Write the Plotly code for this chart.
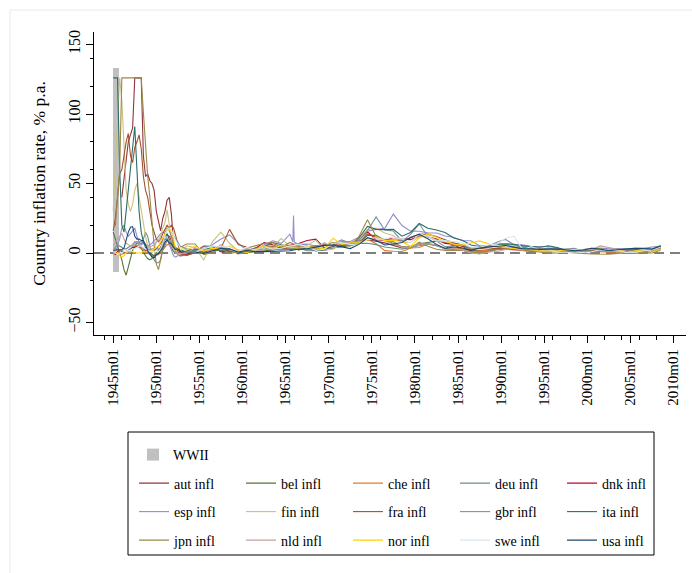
import plotly.graph_objects as go

# ---------------- data ----------------
# sampling dates: quarterly 1945-1952, then mid-year 1953-2008
dates = []
for yr in range(1945, 1953):
    for mo in (1, 4, 7, 10):
        dates.append(f"{yr}m{mo:02d}")
for yr in range(1953, 2009):
    dates.append(f"{yr}m07")

countries = ["aut", "bel", "che", "deu", "dnk", "esp", "fin", "fra",
             "gbr", "ita", "jpn", "nld", "nor", "swe", "usa"]

aut_infl = [None, None, None, None, 40, 55, 70, 80, 85, 90, 126, 126, 126, 126, 70, 55,
            57, 52, 50, 45, 30, 22, 16, 25, 30, 38, 40, 28, 6, 2, 0, -2,
            -1, 3.5, 0.4, 3.2, 2.1, 1.5, 1.1, 1.9, 3.6, 4.4, 2.7, 3.8, 5.0, 2.2, 4.0, 2.8, 3.1, 4.4, 4.7, 6.4,
            7.6, 9.5, 8.4, 7.3, 5.5, 3.6, 3.7, 6.4, 6.8, 5.4, 3.3, 5.7, 3.2, 1.7, 1.4, 1.9, 2.6, 3.3, 3.3, 4.0,
            3.6, 3.0, 2.2, 1.9, 1.3, 0.9, 0.6, 2.3, 2.7, 1.8, 1.4, 2.1, 2.3, 1.4, 2.2, 3.9]
bel_infl = [15, 10, 5, 0, -5, -12, -16, -10, -3, 2, 5, 7, 6, 3, 0, -2,
            -4, -5, -4, -2, 0, 2, 4, 8, 10, 10, 8, 4, 1, 0, -1, -1,
            -0.5, 0.6, -0.1, 2.9, 3.2, 1.3, 1.3, 0.3, 1.0, 1.4, 2.1, 4.2, 4.1, 4.2, 2.9, 2.7, 3.8, 3.9, 4.3, 5.5,
            7.0, 12.7, 12.8, 9.2, 7.1, 4.5, 4.5, 6.6, 7.6, 8.7, 7.7, 6.3, 4.9, 1.3, 1.6, 1.2, 3.1, 3.4, 3.2, 2.4,
            2.8, 2.4, 1.5, 2.1, 1.6, 1.0, 1.1, 2.5, 2.5, 1.6, 1.6, 2.1, 2.8, 1.8, 1.8, 5.5]
che_infl = [2, 2, 1, 0, -1, 0, 1, 2, 3, 4, 5, 5, 4, 3, 2, 1,
            0, -1, -2, -2, -2, -1, 0, 2, 4, 6, 6, 5, 4, 3, 2, 1,
            -0.5, 0.7, 1.1, 1.5, 2.0, 2.6, -0.7, 1.4, 1.9, 4.3, 3.4, 3.1, 3.4, 4.7, 4.0, 2.4, 2.5, 3.6, 6.6, 6.7,
            8.7, 9.8, 6.7, 1.7, 1.3, 1.1, 3.6, 4.0, 6.5, 5.6, 3.0, 2.9, 3.4, 0.8, 1.4, 1.9, 3.2, 5.4, 5.9, 4.0,
            3.3, 0.9, 1.8, 0.8, 0.5, 0.0, 0.8, 1.6, 1.0, 0.6, 0.6, 0.8, 1.2, 1.1, 0.7, 2.9]
deu_infl = [2, 4, 6, 5, 4, 3, 3, 4, 5, 6, 8, 8, 7, 6, 10, 15,
            12, 4, -2, -5, -7, -7, -5, 2, 6, 9, 9, 7, 5, 1, -1, -2,
            -1.8, 0.2, 1.6, 2.6, 2.0, 2.2, 1.0, 1.4, 2.3, 2.9, 3.0, 2.3, 3.2, 3.6, 1.6, 1.6, 1.9, 3.4, 5.3, 5.5,
            6.9, 7.0, 6.0, 4.3, 3.7, 2.7, 4.1, 5.4, 6.3, 5.3, 3.3, 2.4, 2.1, -0.1, 0.2, 1.3, 2.8, 2.7, 4.0, 5.1,
            4.5, 2.7, 1.7, 1.4, 1.9, 0.9, 0.6, 1.4, 2.0, 1.4, 1.0, 1.7, 1.5, 1.6, 2.3, 3.3]
dnk_infl = [0, -1, 1, 2, 1, 0, 1, 2, 3, 4, 4, 5, 5, 4, 3, 2,
            1, 1, 1, 2, 3, 5, 7, 10, 12, 13, 12, 9, 6, 3, 1, -1,
            -1, 1, 4.9, 4.6, 0.8, 1.5, 1.9, 1.3, 3.5, 7.4, 6.0, 3.2, 5.5, 6.8, 9.0, 10.0, 3.7, 5.8, 5.9, 6.6,
            9.3, 15.2, 9.6, 9.0, 11.1, 10.0, 9.6, 12.3, 11.7, 10.1, 6.9, 6.3, 4.7, 3.6, 4.0, 4.6, 4.8, 2.6, 2.4, 2.1,
            1.3, 2.0, 2.1, 2.1, 2.2, 1.8, 2.5, 2.9, 2.4, 2.4, 2.1, 1.2, 1.8, 1.9, 1.7, 4.0]
esp_infl = [3, 4, 6, 10, 18, 20, 15, 12, 14, 16, 18, 12, 8, 6, 7, 6,
            5, 6, 7, 9, 10, 12, 14, 15, 14, 10, 6, 2, -2, -3, -2, 0,
            2, 1, 3, 6, 10, 13, 7, 2, 1.5, 5.7, 8.8, 7.0, 13.5, 6.2, 6.4, 4.9, 2.2, 5.7, 8.2, 8.3,
            11.4, 15.7, 17.0, 17.7, 28.0, 19.8, 15.7, 15.6, 14.5, 14.4, 12.2, 11.3, 8.8, 8.8, 5.2, 4.8, 6.8, 6.7, 5.9, 5.9,
            4.6, 4.7, 4.7, 3.6, 2.0, 1.8, 2.3, 3.4, 3.6, 3.1, 3.0, 3.0, 3.4, 3.5, 2.8, 5.0]
# short-lived spike in the Spanish series around the turn of 1965/66
esp_extra_dates = ["1965m11", "1965m12", "1966m01"]
esp_extra_infl = [8, 27, 8]
fin_infl = [30, 60, 100, 126, 110, 75, 45, 35, 30, 35, 45, 50, 40, 30, 20, 12,
            5, 2, 0, 3, 8, 10, 12, 18, 22, 31, 20, 10, 5, 2, 0, -1,
            5, 4, -5, 8, 15, 7, 1.5, 3.4, 2.0, 4.3, 4.9, 10.4, 4.8, 3.8, 5.5, 9.2, 2.3, 2.7, 6.4, 7.1,
            10.7, 16.9, 17.9, 14.4, 12.6, 7.6, 7.5, 11.6, 12.0, 9.3, 8.4, 7.1, 5.9, 2.9, 4.1, 5.1, 6.6, 6.1, 4.3, 2.9,
            2.2, 1.1, 1.0, 0.6, 1.2, 1.4, 1.2, 3.4, 2.6, 1.6, 0.9, 0.2, 0.9, 1.6, 2.5, 4.5]
fra_infl = [16, 25, 40, 57, 60, 70, 80, 86, 70, 65, 76, 80, 85, 75, 55, 45,
            40, 30, 20, 15, 10, 8, 10, 14, 17, 20, 18, 20, 18, 12, 6, 1,
            -1.7, 0.4, 0.9, 2.0, 3.5, 17.0, 6.1, 4.1, 2.4, 5.2, 4.8, 3.4, 2.5, 2.7, 2.7, 4.6, 6.1, 5.9, 5.5, 6.2,
            7.3, 13.7, 11.8, 9.6, 9.4, 9.1, 10.8, 13.6, 13.4, 11.8, 9.6, 7.4, 5.8, 2.5, 3.3, 2.7, 3.5, 3.4, 3.2, 2.4,
            2.1, 1.7, 1.8, 2.0, 1.2, 0.7, 0.5, 1.7, 1.6, 1.9, 2.1, 2.1, 1.7, 1.7, 1.5, 3.6]
gbr_infl = [3, 3, 3, 2, 2, 1, 1, 2, 3, 5, 7, 8, 8, 8, 7, 6,
            3, 2, 3, 3, 3, 3, 3, 4, 7, 9, 11, 12, 12, 10, 8, 5,
            3.1, 1.8, 4.5, 4.9, 3.7, 3.0, 0.6, 1.0, 3.4, 4.2, 2.0, 3.3, 4.8, 3.9, 2.5, 4.7, 5.4, 6.4, 9.4, 7.1,
            9.2, 16.0, 26.0, 16.5, 15.8, 8.3, 13.4, 21.0, 11.9, 8.6, 4.6, 5.0, 6.1, 3.4, 4.2, 4.9, 7.8, 9.8, 5.9, 3.7,
            1.6, 2.4, 3.5, 2.4, 3.1, 3.4, 1.5, 3.0, 1.8, 1.7, 2.9, 3.0, 2.8, 3.2, 4.3, 4.8]
ita_infl = [126, 126, 126, 60, 20, 15, 30, 50, 65, 80, 91, 60, 30, 15, 8, 4,
            2, 0, -1, -2, -1, 0, 3, 8, 12, 14, 10, 6, 4, 3, 3, 2,
            1.9, 2.6, 2.8, 3.4, 1.3, 2.8, -0.4, 2.3, 2.1, 4.7, 7.5, 5.9, 4.6, 2.3, 3.7, 1.4, 2.6, 5.0, 4.8, 5.7,
            10.8, 19.1, 17.0, 16.8, 17.0, 12.1, 14.8, 21.2, 17.8, 16.5, 14.7, 10.8, 9.2, 5.8, 4.7, 5.1, 6.3, 6.5, 6.3, 5.2,
            4.5, 4.1, 5.2, 4.0, 2.0, 2.0, 1.7, 2.5, 2.8, 2.5, 2.7, 2.2, 2.0, 2.1, 1.8, 4.0]
jpn_infl = [18, 20, 40, 60, 126, 126, 126, 126, 126, 126, 126, 126, 126, 126, 101, 74,
            55, 40, 20, 5, -8, -12, -5, 5, 15, 18, 16, 12, 6, 4, 3, 4,
            6.5, 6.5, -1.1, 0.3, 3.1, -0.4, 1.0, 3.6, 5.3, 6.8, 7.6, 3.9, 7.6, 5.1, 4.0, 5.3, 5.2, 7.7, 6.3, 4.9,
            11.7, 24.0, 11.8, 9.4, 8.2, 4.2, 3.7, 7.8, 4.9, 2.7, 1.9, 2.2, 2.0, 0.6, 0.1, 0.7, 2.3, 3.1, 3.3, 1.7,
            1.3, 0.7, -0.1, 0.1, 1.7, 0.7, -0.3, -0.7, -0.8, -0.9, -0.3, 0.0, -0.3, 0.3, 0.0, 2.0]
nld_infl = [5, 8, 10, 12, 14, 10, 7, 6, 5, 6, 7, 8, 6, 4, 3, 3,
            4, 5, 5, 6, 8, 9, 10, 11, 12, 11, 9, 5, 2, 0, -1, -1,
            0, 3.5, 2, 2, 6, 2, 1, 2.3, 1.5, 2.2, 4, 5.6, 4.3, 5.6, 3.3, 3.7, 7.4, 3.6, 7.5, 7.8,
            8.0, 9.6, 10.2, 8.8, 6.4, 4.1, 4.2, 6.5, 6.7, 5.9, 2.8, 3.3, 2.2, 0.1, -0.7, 0.7, 1.1, 2.5, 3.2, 3.2,
            2.6, 2.8, 1.9, 2.0, 2.2, 2.0, 2.2, 2.3, 5.1, 3.9, 2.2, 1.4, 1.5, 1.7, 1.6, 2.3]
nor_infl = [3, 2, 0, -2, -3, -2, 0, 1, 1, 1, 0, 0, 0, 0, 1, 1,
            1, 1, 2, 3, 4, 5, 8, 11, 13, 16, 17, 15, 10, 2, 3, 4,
            2, 5, 1.3, 3.5, 2.6, 5.0, 2.1, 0.3, 2.6, 5.3, 2.6, 5.7, 4.2, 3.3, 4.4, 3.5, 3.1, 10.6, 6.2, 7.2,
            7.5, 9.4, 11.7, 9.1, 9.1, 8.1, 4.8, 10.9, 13.6, 11.4, 8.4, 6.3, 5.7, 7.2, 8.7, 6.7, 4.6, 4.1, 3.4, 2.3,
            2.3, 1.4, 2.4, 1.2, 2.6, 2.3, 2.3, 3.1, 3.0, 1.3, 2.5, 0.5, 1.5, 2.3, 0.7, 3.0]
swe_infl = [0, 0, -1, 0, 0, 1, 1, 2, 2, 3, 3, 4, 5, 5, 4, 3,
            2, 1, 1, 1, 1, 1, 3, 7, 12, 17, 18, 17, 12, 9, 6, 4,
            1, 0.5, 3, 5, 4.5, 4.5, 1, 4, 2, 4.5, 2.9, 3.4, 5.0, 6.4, 4.3, 1.9, 2.7, 7.0, 7.4, 6.0,
            6.7, 9.9, 9.8, 10.3, 11.4, 10.0, 7.2, 13.7, 12.1, 8.6, 8.9, 8.0, 7.4, 4.2, 4.2, 5.8, 6.4, 10.5, 12.0, 2.3,
            4.6, 2.2, 2.5, 0.5, 0.5, -0.1, 0.5, 0.9, 2.4, 2.2, 1.9, 0.4, 0.5, 1.4, 2.2, 4.2]
usa_infl = [2, 2, 2.5, 2.5, 2.5, 3.5, 10, 15, 18.5, 19, 12, 10, 10, 9, 9, 6,
            1.5, -0.5, -3, -3.5, -1, -0.5, 1.7, 4, 8, 9.5, 7, 7, 4, 2.5, 3, 1,
            0.8, 0.7, -0.4, 1.5, 3.3, 2.8, 0.7, 1.7, 1.0, 1.0, 1.3, 1.3, 1.6, 2.9, 3.1, 4.2, 5.5, 5.7, 4.4, 3.2,
            6.2, 11.0, 9.1, 5.8, 6.5, 7.6, 11.3, 13.5, 10.3, 6.2, 3.2, 4.3, 3.6, 1.9, 3.6, 4.1, 4.8, 5.4, 4.2, 3.0,
            3.0, 2.6, 2.8, 3.0, 2.3, 1.6, 2.2, 3.4, 2.8, 1.6, 2.3, 2.7, 3.4, 3.2, 2.8, 5.0]

# WWII shaded band
wwii_start = "1945m01"
wwii_end = "1945m09"
wwii_low = -14
wwii_high = 133

# axis ticks
major_tick_labels = ["1945m01", "1950m01", "1955m01", "1960m01", "1965m01", "1970m01", "1975m01",
                     "1980m01", "1985m01", "1990m01", "1995m01", "2000m01", "2005m01", "2010m01"]
minor_tick_labels = ["1944m01", "1946m01", "1948m01", "1952m01", "1954m01", "1956m01", "1958m01",
                     "1962m01", "1964m01", "1966m01", "1968m01", "1972m01", "1974m01", "1976m01",
                     "1978m01", "1982m01", "1984m01", "1986m01", "1988m01", "1992m01", "1994m01",
                     "1996m01", "1998m01", "2002m01", "2004m01", "2006m01", "2008m01"]
y_major = [-50, 0, 50, 100, 150]
y_minor = [-20, 20, 40, 60, 80, 120, 140]

series = {"aut": aut_infl, "bel": bel_infl, "che": che_infl, "deu": deu_infl, "dnk": dnk_infl,
          "esp": esp_infl, "fin": fin_infl, "fra": fra_infl, "gbr": gbr_infl, "ita": ita_infl,
          "jpn": jpn_infl, "nld": nld_infl, "nor": nor_infl, "swe": swe_infl, "usa": usa_infl}

# ---------------- styling ----------------
colors = {"aut": "rgb(144,53,59)", "bel": "rgb(85,117,47)", "che": "rgb(227,120,46)",
          "deu": "rgb(110,142,132)", "dnk": "rgb(193,5,52)", "esp": "rgb(147,141,210)",
          "fin": "rgb(202,194,126)", "fra": "rgb(160,82,45)", "gbr": "rgb(123,146,168)",
          "ita": "rgb(45,109,102)", "jpn": "rgb(156,136,71)", "nld": "rgb(191,161,156)",
          "nor": "rgb(255,210,0)", "swe": "rgb(217,230,235)", "usa": "rgb(26,71,111)"}
FONT = "Liberation Serif, Times New Roman, serif"


def to_num(lbl):
    yr, mo = lbl.split("m")
    return int(yr) + (int(mo) - 1) / 12.0


x_num = [to_num(d) for d in dates]

fig = go.Figure()

ws, we = to_num(wwii_start), to_num(wwii_end)
fig.add_trace(go.Bar(x=[(ws + we) / 2], y=[wwii_high - wwii_low], base=[wwii_low],
                     width=[we - ws], marker=dict(color="rgb(192,192,192)", line=dict(width=0)),
                     name="WWII", legend="legend", hoverinfo="skip"))

legend_rows = {"aut": "legend2", "bel": "legend2", "che": "legend2", "deu": "legend2", "dnk": "legend2",
               "esp": "legend3", "fin": "legend3", "fra": "legend3", "gbr": "legend3", "ita": "legend3",
               "jpn": "legend4", "nld": "legend4", "nor": "legend4", "swe": "legend4", "usa": "legend4"}

for c in countries:
    xs = list(x_num)
    ys = list(series[c])
    if c == "esp":
        pts = sorted(zip(xs + [to_num(d) for d in esp_extra_dates], ys + esp_extra_infl),
                     key=lambda p: p[0])
        xs = [p[0] for p in pts]
        ys = [p[1] for p in pts]
    fig.add_trace(go.Scatter(x=xs, y=ys, mode="lines", name=f"{c} infl",
                             line=dict(color=colors[c], width=1.1), legend=legend_rows[c],
                             connectgaps=False))

# layout geometry (pixels)
W, H = 692, 573
L, R, T, B = 94, 6, 32, 238
plot_w = W - L - R
plot_h = H - T - B


def px_x(px):
    return (px - L) / plot_w


def px_y(py):
    return (H - B - py) / plot_h


axis_common = dict(showline=True, linecolor="black", linewidth=1, ticks="outside", ticklen=7,
                   tickcolor="black", tickwidth=1, showgrid=False, zeroline=False, mirror=False)

leg_common = dict(orientation="h", xanchor="left", yanchor="middle", bgcolor="rgba(0,0,0,0)",
                  borderwidth=0, font=dict(family=FONT, size=14, color="black"),
                  entrywidth=62, entrywidthmode="pixels", itemclick=False)

fig.update_layout(
    width=W, height=H, autosize=False,
    margin=dict(l=L, r=R, t=T, b=B),
    paper_bgcolor="white", plot_bgcolor="white",
    font=dict(family=FONT, color="black"),
    showlegend=True,
    bargap=0,
    xaxis=dict(range=[1942.77, 2011.45], tickmode="array",
               tickvals=[to_num(t) for t in major_tick_labels], ticktext=major_tick_labels,
               tickangle=-90, tickfont=dict(family=FONT, size=15, color="black"),
               minor=dict(tickmode="array", tickvals=[to_num(t) for t in minor_tick_labels],
                          ticklen=3.5, ticks="outside", tickcolor="black", showgrid=False),
               **axis_common),
    yaxis=dict(range=[-59, 159], tickmode="array", tickvals=y_major,
               tickangle=-90, tickfont=dict(family=FONT, size=16, color="black"),
               minor=dict(tickmode="array", tickvals=y_minor, ticklen=3.5, ticks="outside",
                          tickcolor="black", showgrid=False),
               title=dict(text="Country inflation rate, % p.a.", font=dict(family=FONT, size=17.5),
                          standoff=15),
               **axis_common),
    legend=dict(x=px_x(133), y=px_y(455), **leg_common),
    legend2=dict(x=px_x(134), y=px_y(483.5), **leg_common),
    legend3=dict(x=px_x(134), y=px_y(512), **leg_common),
    legend4=dict(x=px_x(134), y=px_y(540.5), **leg_common),
    shapes=[
        dict(type="line", xref="paper", yref="y", x0=0, x1=1, y0=0, y1=0,
             line=dict(color="black", width=1.2, dash="10px,6px"), layer="below"),
        dict(type="rect", xref="paper", yref="paper", x0=px_x(128), x1=px_x(654),
             y0=px_y(555), y1=px_y(432), line=dict(color="black", width=1), layer="below"),
        dict(type="rect", xref="paper", yref="paper", x0=px_x(10), x1=px_x(700),
             y0=px_y(580), y1=px_y(10), line=dict(color="rgb(234,234,234)", width=1), layer="below"),
    ],
)

fig.write_html("out.html", config={"displayModeBar": False},
               post_script="document.body.style.margin='0px';")
